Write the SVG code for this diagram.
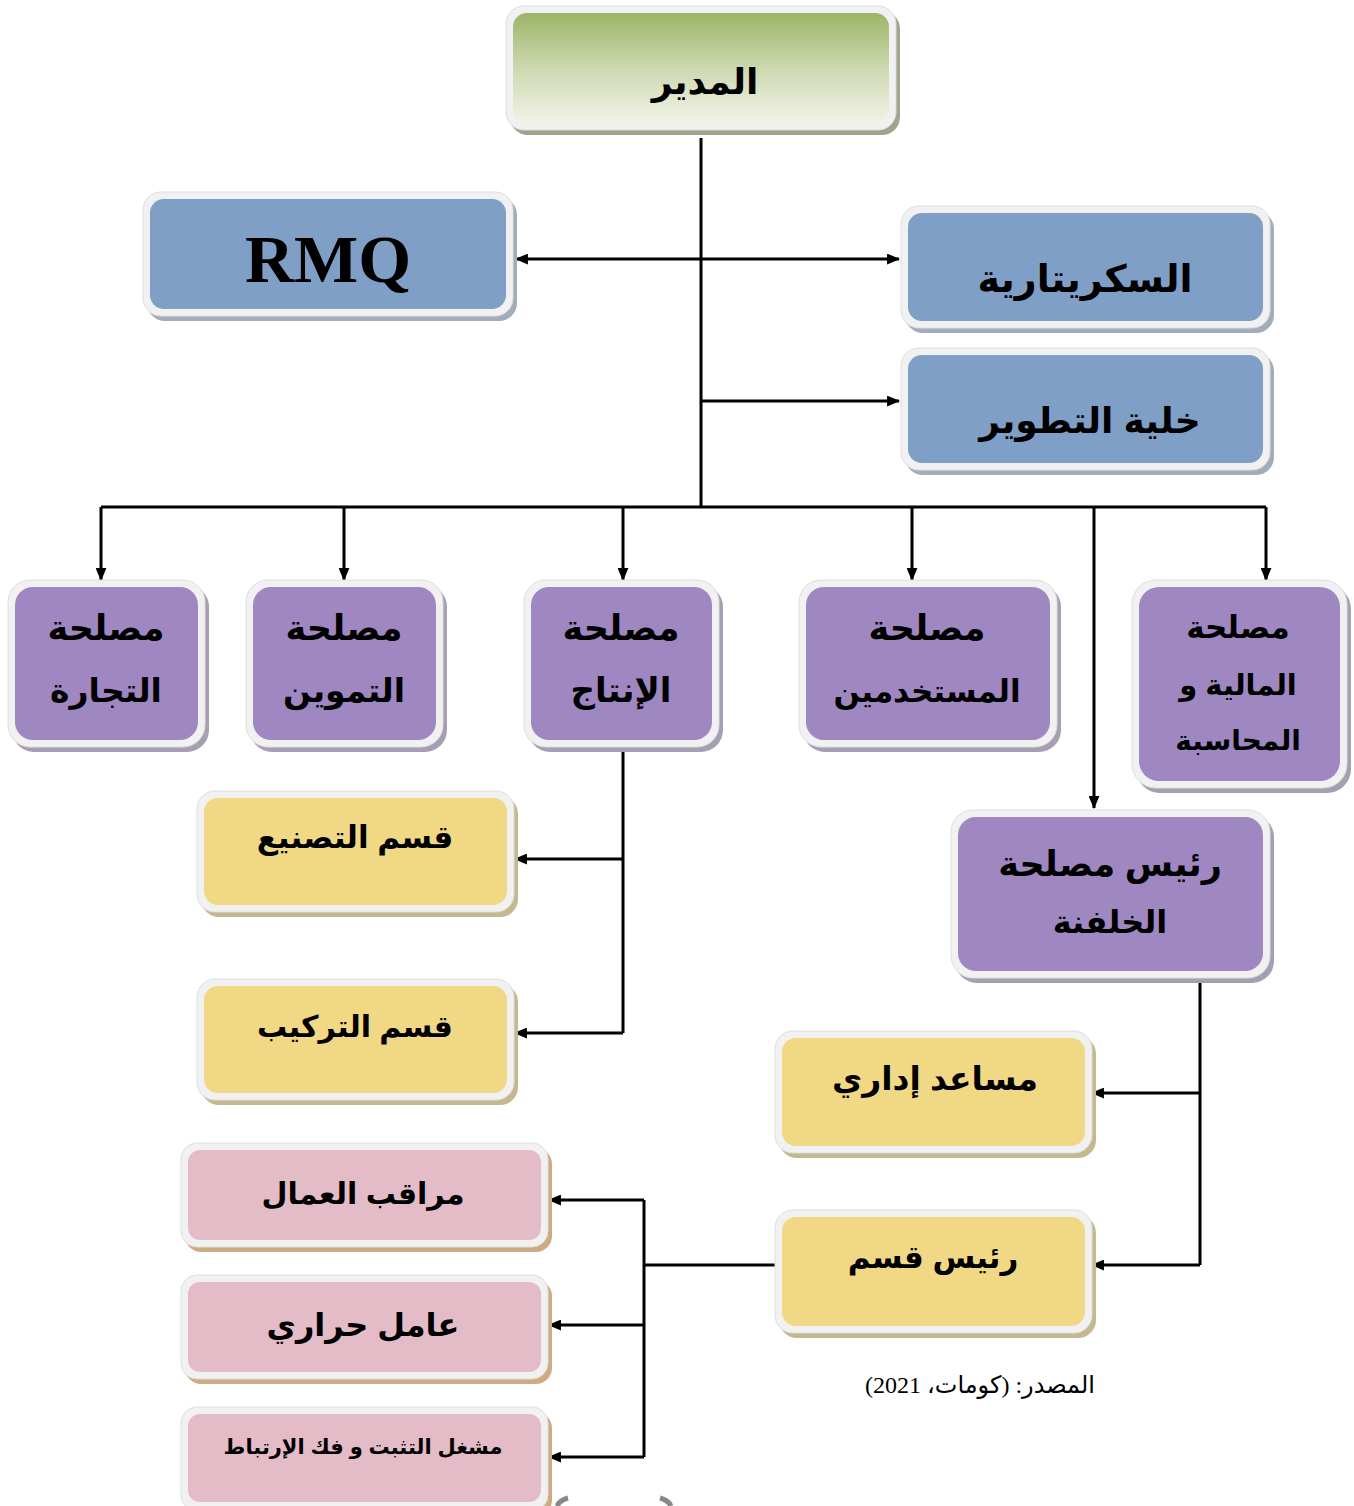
<svg xmlns="http://www.w3.org/2000/svg" width="1354" height="1506" viewBox="0 0 1354 1506">
<defs>
<linearGradient id="gGreen" x1="0" y1="0" x2="0" y2="1">
<stop offset="0" stop-color="#9db468"/>
<stop offset="0.5" stop-color="#cdd8b0"/>
<stop offset="1" stop-color="#f1f3e6"/>
</linearGradient>
<marker id="arr" viewBox="0 0 12 10" refX="11" refY="5" markerWidth="13" markerHeight="11" markerUnits="userSpaceOnUse" orient="auto">
<path d="M0,0 L12,5 L0,10 z" fill="#000"/>
</marker>
</defs>
<style>
.out{fill:#f1f1f1;stroke:#dedede;stroke-width:1}
.shG{fill:#9da58c}
.shB{fill:#a3acb9}
.shP{fill:#a69eb3}
.shY{fill:#c4b88e}
.shK{fill:#cfab82}
.inB{fill:#7f9fc6}
.inP{fill:#9f87c2}
.inY{fill:#f1d885}
.inK{fill:#e4bcc8}
.t{font-family:"Liberation Sans","DejaVu Sans",sans-serif;font-weight:bold;fill:#000;text-anchor:middle}
.c{fill:none;stroke:#000;stroke-width:3}
</style>

<g id="connectors">
<path class="c" d="M701,138 V507"/>
<path class="c" d="M701,259 H516" marker-end="url(#arr)"/>
<path class="c" d="M701,259 H899" marker-end="url(#arr)"/>
<path class="c" d="M701,401 H899" marker-end="url(#arr)"/>
<path class="c" d="M101,507 H1266"/>
<path class="c" d="M101,507 V580" marker-end="url(#arr)"/>
<path class="c" d="M344,507 V580" marker-end="url(#arr)"/>
<path class="c" d="M623,507 V580" marker-end="url(#arr)"/>
<path class="c" d="M912,507 V580" marker-end="url(#arr)"/>
<path class="c" d="M1266,507 V580" marker-end="url(#arr)"/>
<path class="c" d="M1094,507 V808" marker-end="url(#arr)"/>
<path class="c" d="M623,749 V1033"/>
<path class="c" d="M623,859 H515" marker-end="url(#arr)"/>
<path class="c" d="M623,1033 H515" marker-end="url(#arr)"/>
<path class="c" d="M1200,980 V1265"/>
<path class="c" d="M1200,1093 H1092" marker-end="url(#arr)"/>
<path class="c" d="M1200,1265 H1092" marker-end="url(#arr)"/>
<path class="c" d="M776,1265 H644"/>
<path class="c" d="M644,1200 V1457"/>
<path class="c" d="M644,1200 H549" marker-end="url(#arr)"/>
<path class="c" d="M644,1325 H549" marker-end="url(#arr)"/>
<path class="c" d="M644,1457 H549" marker-end="url(#arr)"/>
</g>

<g id="n-director">
<rect class="shG" x="510" y="11" width="390" height="124" rx="18"/>
<rect class="out" x="506" y="6" width="390" height="124" rx="18"/>
<rect fill="url(#gGreen)" x="513" y="13" width="376" height="110" rx="14"/>
<text class="t" x="705" y="94" font-size="36">المدير</text>
</g>

<g id="n-rmq">
<rect class="shB" x="147" y="197" width="370" height="124" rx="18"/>
<rect class="out" x="143" y="192" width="370" height="124" rx="18"/>
<rect class="inB" x="150" y="199" width="356" height="110" rx="14"/>
<text x="328" y="282" font-size="68" font-weight="bold" font-family="'Liberation Serif',serif" text-anchor="middle" fill="#000">RMQ</text>
</g>

<g id="n-secretary">
<rect class="shB" x="905" y="211" width="369" height="122" rx="18"/>
<rect class="out" x="901" y="206" width="369" height="122" rx="18"/>
<rect class="inB" x="908" y="213" width="355" height="108" rx="14"/>
<text class="t" x="1085" y="292" font-size="38">السكريتارية</text>
</g>

<g id="n-dev">
<rect class="shB" x="905" y="353" width="369" height="122" rx="18"/>
<rect class="out" x="901" y="348" width="369" height="122" rx="18"/>
<rect class="inB" x="908" y="355" width="355" height="108" rx="14"/>
<text class="t" x="1090" y="433" font-size="36">خلية التطوير</text>
</g>

<g id="n-commerce">
<rect class="shP" x="12" y="585" width="197" height="167" rx="22"/>
<rect class="out" x="8" y="580" width="197" height="167" rx="22"/>
<rect class="inP" x="15" y="587" width="183" height="153" rx="18"/>
<text class="t" x="106" y="640" font-size="35">مصلحة</text>
<text class="t" x="106" y="702" font-size="33">التجارة</text>
</g>

<g id="n-supply">
<rect class="shP" x="250" y="585" width="197" height="167" rx="22"/>
<rect class="out" x="246" y="580" width="197" height="167" rx="22"/>
<rect class="inP" x="253" y="587" width="183" height="153" rx="18"/>
<text class="t" x="344" y="640" font-size="35">مصلحة</text>
<text class="t" x="344" y="702" font-size="33">التموين</text>
</g>

<g id="n-production">
<rect class="shP" x="528" y="585" width="195" height="167" rx="22"/>
<rect class="out" x="524" y="580" width="195" height="167" rx="22"/>
<rect class="inP" x="531" y="587" width="181" height="153" rx="18"/>
<text class="t" x="621" y="640" font-size="35">مصلحة</text>
<text class="t" x="621" y="702" font-size="34">الإنتاج</text>
</g>

<g id="n-staff">
<rect class="shP" x="803" y="585" width="258" height="167" rx="22"/>
<rect class="out" x="799" y="580" width="258" height="167" rx="22"/>
<rect class="inP" x="806" y="587" width="244" height="153" rx="18"/>
<text class="t" x="927" y="640" font-size="35">مصلحة</text>
<text class="t" x="927" y="702" font-size="31">المستخدمين</text>
</g>

<g id="n-finance">
<rect class="shP" x="1136" y="585" width="215" height="208" rx="24"/>
<rect class="out" x="1132" y="580" width="215" height="208" rx="24"/>
<rect class="inP" x="1139" y="587" width="201" height="194" rx="20"/>
<text class="t" x="1238" y="638" font-size="31">مصلحة</text>
<text class="t" x="1238" y="695" font-size="29">المالية و</text>
<text class="t" x="1238" y="750" font-size="28">المحاسبة</text>
</g>

<g id="n-backoffice">
<rect class="shP" x="955" y="815" width="319" height="168" rx="22"/>
<rect class="out" x="951" y="810" width="319" height="168" rx="22"/>
<rect class="inP" x="958" y="817" width="305" height="154" rx="18"/>
<text class="t" x="1110" y="876" font-size="35">رئيس مصلحة</text>
<text class="t" x="1110" y="933" font-size="32">الخلفنة</text>
</g>

<g id="n-manufacturing">
<rect class="shY" x="201" y="796" width="317" height="121" rx="18"/>
<rect class="out" x="197" y="791" width="317" height="121" rx="18"/>
<rect class="inY" x="204" y="798" width="303" height="107" rx="14"/>
<text class="t" x="355" y="848" font-size="31">قسم التصنيع</text>
</g>

<g id="n-assembly">
<rect class="shY" x="201" y="984" width="317" height="121" rx="18"/>
<rect class="out" x="197" y="979" width="317" height="121" rx="18"/>
<rect class="inY" x="204" y="986" width="303" height="107" rx="14"/>
<text class="t" x="355" y="1037" font-size="30">قسم التركيب</text>
</g>

<g id="n-admin">
<rect class="shY" x="779" y="1036" width="317" height="122" rx="18"/>
<rect class="out" x="775" y="1031" width="317" height="122" rx="18"/>
<rect class="inY" x="782" y="1038" width="303" height="108" rx="14"/>
<text class="t" x="935" y="1090" font-size="33">مساعد إداري</text>
</g>

<g id="n-section-head">
<rect class="shY" x="779" y="1215" width="317" height="123" rx="18"/>
<rect class="out" x="775" y="1210" width="317" height="123" rx="18"/>
<rect class="inY" x="782" y="1217" width="303" height="109" rx="14"/>
<text class="t" x="933" y="1268" font-size="31">رئيس قسم</text>
</g>

<g id="n-supervisor">
<rect class="shK" x="185" y="1148" width="367" height="104" rx="16"/>
<rect class="out" x="181" y="1143" width="367" height="104" rx="16"/>
<rect class="inK" x="188" y="1150" width="353" height="90" rx="12"/>
<text class="t" x="363" y="1204" font-size="30">مراقب العمال</text>
</g>

<g id="n-thermal">
<rect class="shK" x="185" y="1280" width="367" height="104" rx="16"/>
<rect class="out" x="181" y="1275" width="367" height="104" rx="16"/>
<rect class="inK" x="188" y="1282" width="353" height="90" rx="12"/>
<text class="t" x="363" y="1336" font-size="32">عامل حراري</text>
</g>

<g id="n-operator">
<rect class="shK" x="185" y="1412" width="367" height="104" rx="16"/>
<rect class="out" x="181" y="1407" width="367" height="104" rx="16"/>
<rect class="inK" x="188" y="1414" width="353" height="88" rx="12"/>
<text class="t" x="363" y="1454" font-size="21">مشغل التثبت و فك الإرتباط</text>
</g>

<text x="980" y="1393" font-size="24" font-family="'Liberation Serif','DejaVu Sans',serif" direction="rtl" text-anchor="middle" fill="#000">المصدر: (كومات، 2021)</text>

<path d="M557,1506 Q560,1500 568,1498" fill="none" stroke="#888" stroke-width="5"/>
<path d="M660,1498 Q668,1500 671,1506" fill="none" stroke="#888" stroke-width="5"/>
</svg>
